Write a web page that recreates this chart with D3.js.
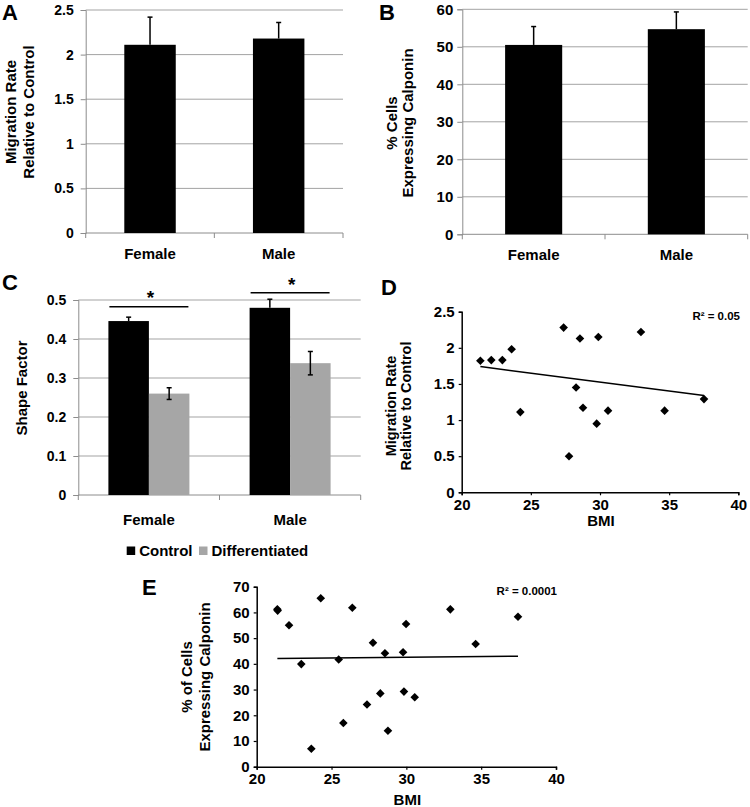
<!DOCTYPE html>
<html>
<head>
<meta charset="utf-8">
<script src="https://cdn.jsdelivr.net/npm/d3@7"></script>
<style>
  html, body { margin: 0; padding: 0; background: #fff; }
  svg text { font-family: "Liberation Sans", Arial, sans-serif; font-weight: bold; fill: #000; }
</style>
</head>
<body>
<svg id="chart" width="750" height="807"></svg>
<script>
// ---------------- DATA ----------------
const barCategories = ["Female", "Male"];

// Panel A
const migrationMeans = [2.11, 2.18];
const migrationErr = [0.31, 0.18];
const migrationTicks = [0, 0.5, 1, 1.5, 2, 2.5];

// Panel B
const calponinMeans = [50.5, 54.7];
const calponinErr = [4.9, 4.6];
const calponinTicks = [0, 10, 20, 30, 40, 50, 60];

// Panel C
const shapeSeries = ["Control", "Differentiated"];
const shapeControl = [0.446, 0.480];
const shapeControlErr = [0.010, 0.022];
const shapeDiff = [0.260, 0.338];
const shapeDiffErr = [0.015, 0.030];
const shapeTicks = [0, 0.1, 0.2, 0.3, 0.4, 0.5];

// Panel D
const bmiD = [21.35, 22.14, 22.94, 23.61, 24.24, 27.37, 27.76, 28.27, 28.55, 28.77, 29.76, 29.88, 30.58, 32.96, 34.67, 37.52];
const migD = [1.82, 1.83, 1.83, 1.98, 1.11, 2.28, 0.50, 1.45, 2.13, 1.17, 0.95, 2.15, 1.13, 2.22, 1.13, 1.29];
const trendDx = [21.35, 37.52];
const trendDy = [1.74, 1.34];
const r2D = "R² = 0.05";
const migDTicks = [0, 0.5, 1, 1.5, 2, 2.5];
const bmiTicks = [20, 25, 30, 35, 40];

// Panel E
const bmiE = [21.38, 21.40, 22.16, 22.98, 23.65, 24.28, 25.48, 25.79, 26.39, 27.37, 27.77, 28.26, 28.57, 28.77, 29.78, 29.84, 29.98, 30.56, 32.94, 34.63, 37.46];
const calE = [61.2, 60.7, 55.0, 39.9, 7.0, 65.5, 41.7, 17.0, 61.8, 24.2, 48.2, 28.5, 44.1, 14.0, 44.5, 29.2, 55.5, 27.0, 61.2, 47.7, 58.3];
const trendEx = [21.38, 37.46];
const trendEy = [42.1, 43.0];
const r2E = "R² = 0.0001";
const calETicks = [0, 10, 20, 30, 40, 50, 60, 70];

// ---------------- DRAWING ----------------
const svg = d3.select("#chart");
const GRID = "#a3a3a3";
const AXIS = "#8c8c8c";
const GREY = "#a6a6a6";

function panelLetter(t, x, y) {
  svg.append("text").attr("x", x).attr("y", y).attr("font-size", 22).text(t);
}
function yTitle(lines, cx, cy, size, gap) {
  lines.forEach((l, i) => {
    svg.append("text")
      .attr("transform", `translate(${cx + i * gap},${cy}) rotate(-90)`)
      .attr("text-anchor", "middle").attr("dy", "0.35em")
      .attr("font-size", size).text(l);
  });
}

function barFrame(x0, x1, y0, y1, domainMax, ticks, tickFont, tickPad) {
  const y = d3.scaleLinear().domain([0, domainMax]).range([y0, y1]);
  const x = d3.scaleBand().domain(barCategories).range([x0, x1]);
  // gridlines
  svg.append("g").selectAll("line").data(ticks.filter(t => t > 0)).join("line")
    .attr("x1", x0).attr("x2", x1).attr("y1", d => y(d)).attr("y2", d => y(d))
    .attr("stroke", GRID).attr("stroke-width", 1);
  // y axis
  const ya = svg.append("g").attr("transform", `translate(${x0},0)`)
    .call(d3.axisLeft(y).tickValues(ticks).tickSize(5).tickPadding(tickPad).tickFormat(d3.format("")));
  ya.select(".domain").attr("stroke", AXIS);
  ya.selectAll(".tick line").attr("stroke", AXIS);
  ya.selectAll("text").attr("font-size", tickFont).attr("font-family", null);
  // x axis line + boundary ticks
  svg.append("line").attr("x1", x0).attr("x2", x1).attr("y1", y0).attr("y2", y0)
    .attr("stroke", AXIS).attr("stroke-width", 1);
  const bounds = [x0].concat(barCategories.map(c => x(c) + x.bandwidth()));
  svg.append("g").selectAll("line").data(bounds).join("line")
    .attr("x1", d => d).attr("x2", d => d).attr("y1", y0).attr("y2", y0 + 5)
    .attr("stroke", AXIS);
  return { x, y };
}

function categoryLabels(x, yPos) {
  svg.append("g").selectAll("text").data(barCategories).join("text")
    .attr("x", d => x(d) + x.bandwidth() / 2).attr("y", yPos)
    .attr("text-anchor", "middle").attr("dy", "0.35em").attr("font-size", 15).text(d => d);
}

function errBar(cx, yTop, yBase, cap) {
  svg.append("line").attr("x1", cx).attr("x2", cx).attr("y1", yBase).attr("y2", yTop)
    .attr("stroke", "#000").attr("stroke-width", 1.5);
  svg.append("line").attr("x1", cx - cap).attr("x2", cx + cap).attr("y1", yTop).attr("y2", yTop)
    .attr("stroke", "#000").attr("stroke-width", 1.5);
}

// ---- Panel A ----
{
  panelLetter("A", 2, 20);
  const { x, y } = barFrame(85.7, 343, 233, 10, 2.5, migrationTicks, 14, 7);
  const bw = x.bandwidth() * 0.4;
  barCategories.forEach((c, i) => {
    const cx = x(c) + x.bandwidth() / 2;
    svg.append("rect").attr("x", cx - bw / 2).attr("y", y(migrationMeans[i]))
      .attr("width", bw).attr("height", y(0) - y(migrationMeans[i])).attr("fill", "#000");
    errBar(cx, y(migrationMeans[i] + migrationErr[i]), y(migrationMeans[i]), 2.5);
  });
  categoryLabels(x, 254);
  yTitle(["Migration Rate", "Relative to Control"], 11, 112, 15, 18);
}

// ---- Panel B ----
{
  panelLetter("B", 379, 20);
  const { x, y } = barFrame(462.3, 747.7, 234.3, 9.3, 60, calponinTicks, 15, 4);
  const bw = x.bandwidth() * 0.4;
  barCategories.forEach((c, i) => {
    const cx = x(c) + x.bandwidth() / 2;
    svg.append("rect").attr("x", cx - bw / 2).attr("y", y(calponinMeans[i]))
      .attr("width", bw).attr("height", y(0) - y(calponinMeans[i])).attr("fill", "#000");
    errBar(cx, y(calponinMeans[i] + calponinErr[i]), y(calponinMeans[i]), 2.5);
  });
  categoryLabels(x, 255);
  yTitle(["% Cells", "Expressing Calponin"], 392, 123, 15, 16);
}

// ---- Panel C ----
{
  panelLetter("C", 2, 290);
  const { x, y } = barFrame(78.3, 360.7, 495, 300, 0.5, shapeTicks, 14, 7);
  const bw = 40.5;
  const series = [
    { means: shapeControl, errs: shapeControlErr, fill: "#000", both: false },
    { means: shapeDiff, errs: shapeDiffErr, fill: GREY, both: true }
  ];
  barCategories.forEach((c, i) => {
    const cx = x(c) + x.bandwidth() / 2;
    series.forEach((s, k) => {
      const bx = cx - bw + k * bw;
      svg.append("rect").attr("x", bx).attr("y", y(s.means[i]))
        .attr("width", bw).attr("height", y(0) - y(s.means[i])).attr("fill", s.fill);
      const mx = bx + bw / 2;
      const base = s.both ? y(s.means[i] - s.errs[i]) : y(s.means[i]);
      errBar(mx, y(s.means[i] + s.errs[i]), base, 2.5);
      if (s.both) {
        svg.append("line").attr("x1", mx - 2.5).attr("x2", mx + 2.5)
          .attr("y1", base).attr("y2", base).attr("stroke", "#000").attr("stroke-width", 1.5);
      }
    });
  });
  // significance
  const sig = [
    { c: "Female", ly: 306.7, sy: 304 },
    { c: "Male", ly: 292.7, sy: 291 }
  ];
  sig.forEach(s => {
    const cx = x(s.c) + x.bandwidth() / 2;
    svg.append("line").attr("x1", cx - 39.5).attr("x2", cx + 39.5).attr("y1", s.ly).attr("y2", s.ly)
      .attr("stroke", "#000").attr("stroke-width", 1.5);
    svg.append("text").attr("x", cx + 1.5).attr("y", s.sy).attr("text-anchor", "middle")
      .attr("font-size", 19).text("*");
  });
  categoryLabels(x, 520);
  yTitle(["Shape Factor"], 21.5, 388, 15, 0);
  // legend
  const lg = svg.append("g");
  const items = [{ t: shapeSeries[0], f: "#000", x: 126.7 }, { t: shapeSeries[1], f: GREY, x: 199 }];
  items.forEach(it => {
    lg.append("rect").attr("x", it.x).attr("y", 546.5).attr("width", 8.5).attr("height", 8.5).attr("fill", it.f);
    lg.append("text").attr("x", it.x + 12.5).attr("y", 551).attr("dy", "0.35em")
      .attr("font-size", 15).text(it.t);
  });
}

// ---- scatter helper ----
function diamond(r) { return `M0,${-r}L${r},0L0,${r}L${-r},0Z`; }

function scatter(opts) {
  const x = d3.scaleLinear().domain([20, 40]).range([opts.x0, opts.x1]);
  const y = d3.scaleLinear().domain([0, opts.ymax]).range([opts.y0, opts.y1]);
  const xa = svg.append("g").attr("transform", `translate(0,${opts.y0})`)
    .call(d3.axisBottom(x).tickValues(bmiTicks).tickSize(3).tickPadding(4).tickFormat(d3.format("")));
  xa.select(".domain").attr("stroke", "#000").attr("stroke-width", 1.5);
  xa.selectAll(".tick line").attr("stroke", "#000").attr("stroke-width", 1.2);
  xa.selectAll("text").attr("font-size", opts.tickSize).attr("font-family", null);
  const ya = svg.append("g").attr("transform", `translate(${opts.x0},0)`)
    .call(d3.axisLeft(y).tickValues(opts.yticks).tickSize(3).tickPadding(4).tickFormat(d3.format("")));
  ya.select(".domain").attr("stroke", "#000").attr("stroke-width", 1.5);
  ya.selectAll(".tick line").attr("stroke", "#000").attr("stroke-width", 1.2);
  ya.selectAll("text").attr("font-size", opts.tickSize).attr("font-family", null);
  // trend
  svg.append("line").attr("x1", x(opts.tx[0])).attr("x2", x(opts.tx[1]))
    .attr("y1", y(opts.ty[0])).attr("y2", y(opts.ty[1]))
    .attr("stroke", "#000").attr("stroke-width", 1.5);
  // points
  svg.append("g").selectAll("path").data(opts.xs).join("path")
    .attr("transform", (d, i) => `translate(${x(d)},${y(opts.ys[i])})`)
    .attr("d", diamond(4.3)).attr("fill", "#000");
  // R2
  svg.append("text").attr("x", opts.r2x).attr("y", opts.r2y).attr("text-anchor", "end")
    .attr("dy", "0.35em").attr("font-size", 11.5).text(opts.r2);
  // BMI label
  svg.append("text").attr("x", (opts.x0 + opts.x1) / 2 + 1).attr("y", opts.bmiY)
    .attr("text-anchor", "middle").attr("dy", "0.35em").attr("font-size", 15).text("BMI");
}

// ---- Panel D ----
{
  panelLetter("D", 381, 295);
  scatter({ x0: 461.7, x1: 738.3, y0: 492.3, y1: 311.7, ymax: 2.5, yticks: migDTicks,
    xs: bmiD, ys: migD, tx: trendDx, ty: trendDy, r2: r2D, r2x: 740, r2y: 315.5,
    bmiY: 521, tickSize: 15 });
  yTitle(["Migration Rate", "Relative to Control"], 391, 406, 14.5, 15);
}

// ---- Panel E ----
{
  panelLetter("E", 142, 595);
  scatter({ x0: 256.7, x1: 556, y0: 766.7, y1: 586.7, ymax: 70, yticks: calETicks,
    xs: bmiE, ys: calE, tx: trendEx, ty: trendEy, r2: r2E, r2x: 557, r2y: 591,
    bmiY: 800, tickSize: 15 });
  yTitle(["% of Cells", "Expressing Calponin"], 187, 677, 15, 18);
}
</script>
</body>
</html>
